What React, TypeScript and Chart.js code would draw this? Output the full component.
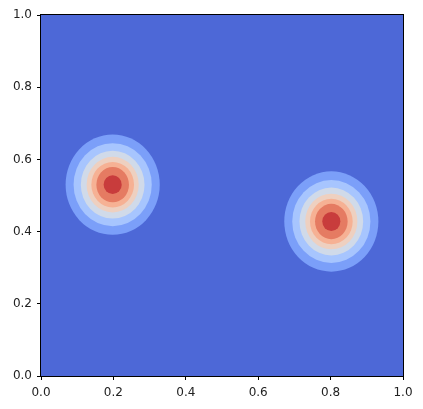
import React, { useEffect, useRef } from "react";
import { Chart, registerables } from "chart.js";

Chart.register(...registerables);

// Axis ticks
const tickValues = [0, 0.2, 0.4, 0.6, 0.8, 1.0];

// Blob centres (data units)
const blobCentersX = [0.198, 0.802];
const blobCentersY = [0.53, 0.428];

// Contour ring half-widths / half-heights (outer -> inner)
const ringRadiiX = [0.13, 0.108, 0.088, 0.072, 0.059, 0.045, 0.025];
const ringRadiiY = [0.139, 0.115, 0.094, 0.077, 0.063, 0.049, 0.026];

// Filled level colours (coolwarm), background first
const levelColors = [
  "#4d68d7",
  "#7b9ff9",
  "#a7c5fe",
  "#d0dae9",
  "#eed0c0",
  "#f6b194",
  "#e57b62",
  "#c83c3c",
];

const contourPlugin = {
  id: "contourRings",
  beforeDatasetsDraw(chart: any) {
    const { ctx, chartArea, scales } = chart;
    const xs = scales.x;
    const ys = scales.y;
    ctx.save();
    ctx.beginPath();
    ctx.rect(chartArea.left, chartArea.top, chartArea.right - chartArea.left, chartArea.bottom - chartArea.top);
    ctx.clip();
    ctx.fillStyle = levelColors[0];
    ctx.fillRect(chartArea.left, chartArea.top, chartArea.right - chartArea.left, chartArea.bottom - chartArea.top);
    blobCentersX.forEach((cx, b) => {
      const cy = blobCentersY[b];
      ringRadiiX.forEach((rx, k) => {
        const ry = ringRadiiY[k];
        const px = xs.getPixelForValue(cx);
        const py = ys.getPixelForValue(cy);
        const prx = Math.abs(xs.getPixelForValue(cx + rx) - px);
        const pry = Math.abs(ys.getPixelForValue(cy + ry) - py);
        ctx.beginPath();
        ctx.ellipse(px, py, prx, pry, 0, 0, Math.PI * 2);
        ctx.fillStyle = levelColors[k + 1];
        ctx.fill();
      });
    });
    ctx.restore();
  },
  afterDraw(chart: any) {
    const { ctx, chartArea } = chart;
    ctx.save();
    ctx.strokeStyle = "#000";
    ctx.lineWidth = 1;
    ctx.strokeRect(
      Math.round(chartArea.left) - 0.5,
      Math.round(chartArea.top) - 0.5,
      Math.round(chartArea.right - chartArea.left) + 1,
      Math.round(chartArea.bottom - chartArea.top) + 1
    );
    ctx.restore();
  },
};

export default function App() {
  const ref = useRef<HTMLCanvasElement>(null);
  useEffect(() => {
    if (!ref.current) return;
    const font = { family: "DejaVu Sans", size: 12 };
    const chart = new Chart(ref.current, {
      type: "scatter",
      data: { datasets: [{ data: [], pointRadius: 0 }] },
      options: {
        animation: false,
        responsive: false,
        maintainAspectRatio: false,
        layout: { padding: { left: 0, top: 15, right: 20, bottom: 0 } },
        plugins: { legend: { display: false }, tooltip: { enabled: false } },
        scales: {
          x: {
            type: "linear",
            min: 0,
            max: 1,
            afterBuildTicks: (s: any) => {
              s.ticks = tickValues.map((v) => ({ value: v }));
            },
            afterFit: (s: any) => {
              s.height = 33;
            },
            ticks: {
              color: "#222",
              font,
              padding: 6,
              maxRotation: 0,
              callback: (v: any) => Number(v).toFixed(1),
            },
            grid: { drawOnChartArea: false, tickLength: 4, color: "#000", tickColor: "#000" },
            border: { display: false },
          },
          y: {
            type: "linear",
            min: 0,
            max: 1,
            afterBuildTicks: (s: any) => {
              s.ticks = tickValues.map((v) => ({ value: v }));
            },
            afterFit: (s: any) => {
              s.width = 41;
            },
            ticks: {
              color: "#222",
              font,
              padding: 5,
              callback: (v: any) => Number(v).toFixed(1),
            },
            grid: { drawOnChartArea: false, tickLength: 4, color: "#000", tickColor: "#000" },
            border: { display: false },
          },
        },
      },
      plugins: [contourPlugin],
    } as any);
    return () => chart.destroy();
  }, []);
  return (
    <div style={{ position: "fixed", left: 0, top: 0, width: 423, height: 409, background: "#fff" }}>
      <canvas ref={ref} width={423} height={409} style={{ display: "block" }} />
    </div>
  );
}
